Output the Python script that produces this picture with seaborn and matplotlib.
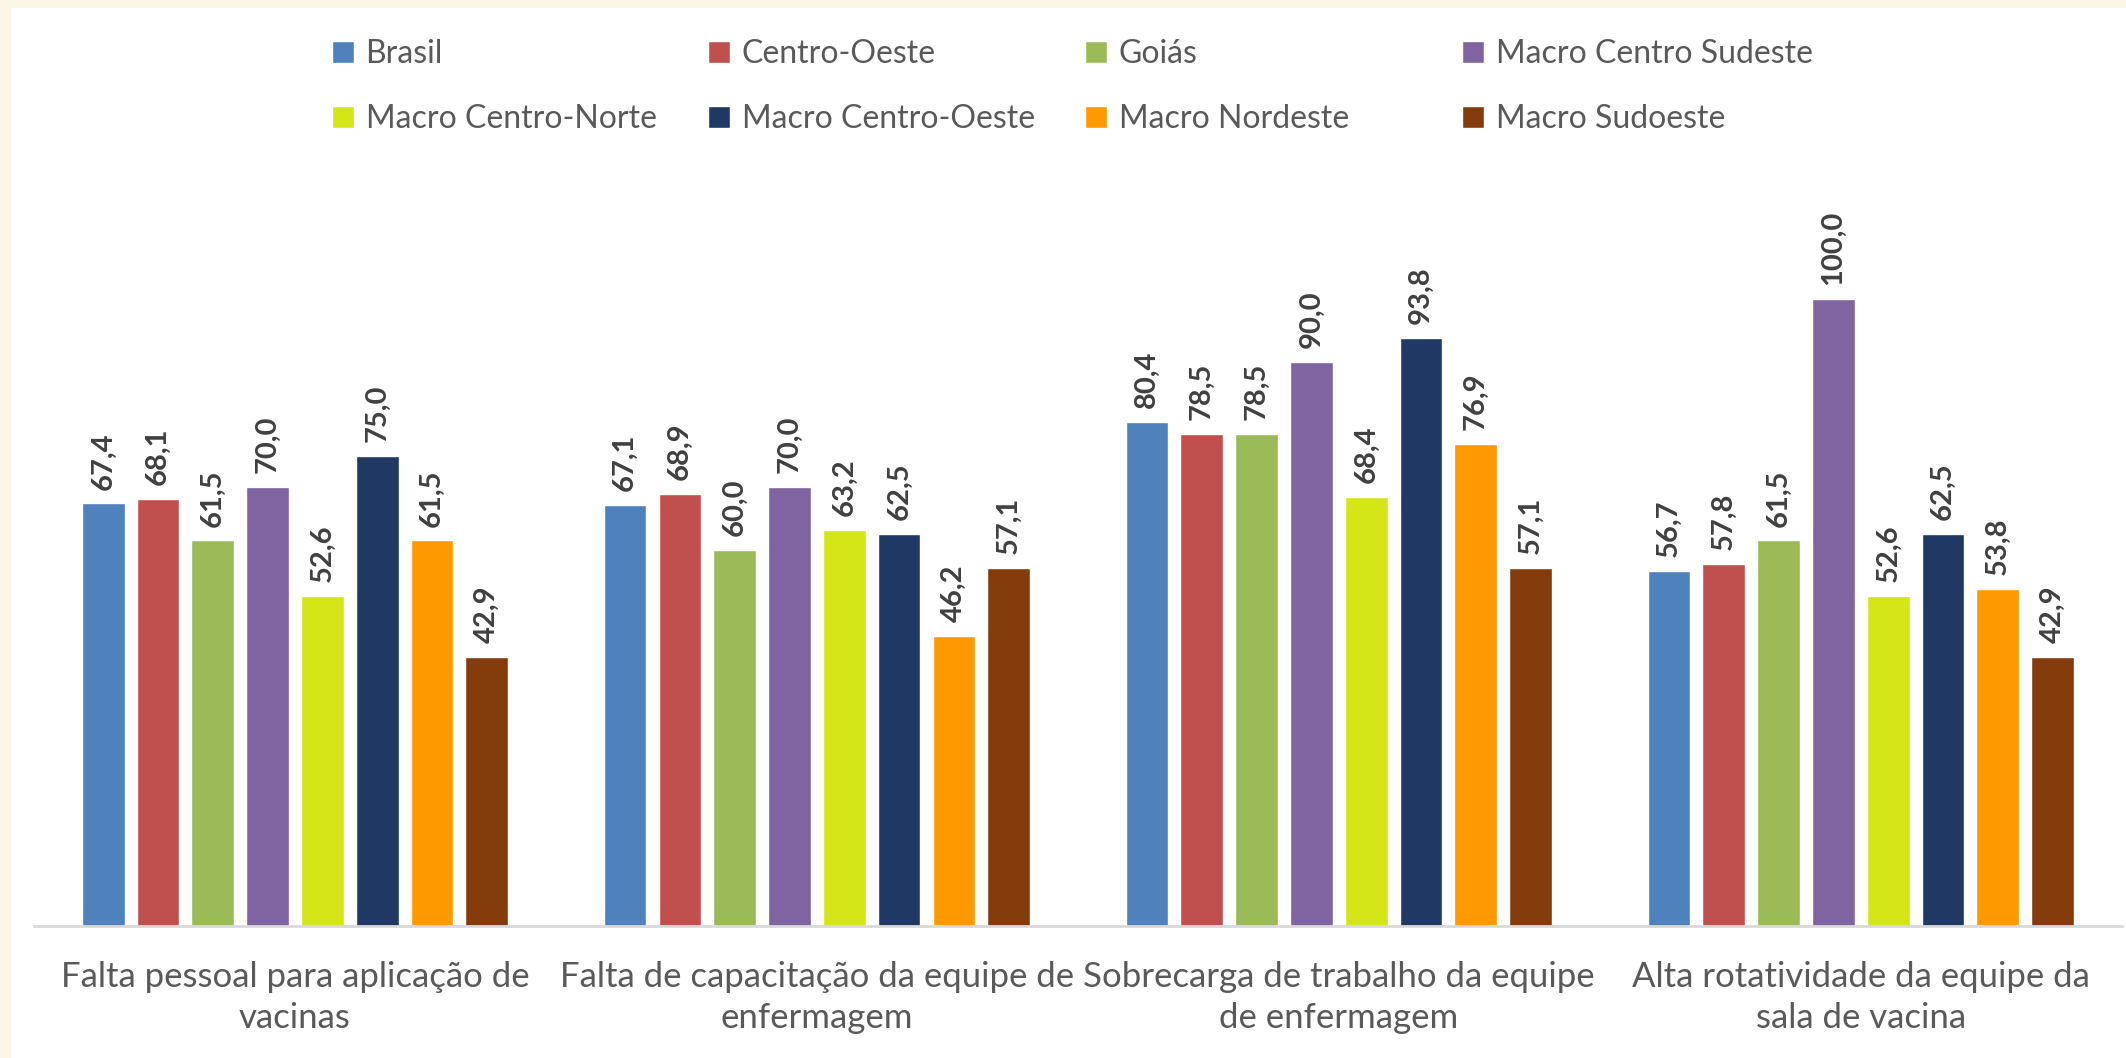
import pandas as pd
import matplotlib.pyplot as plt
import seaborn as sns
from matplotlib.patches import Rectangle

categories = [
    "Falta pessoal para aplicação de\nvacinas",
    "Falta de capacitação da equipe de\nenfermagem",
    "Sobrecarga de trabalho da equipe\nde enfermagem",
    "Alta rotatividade da equipe da\nsala de vacina",
]
regions = ["Brasil", "Centro-Oeste", "Goiás", "Macro Centro Sudeste",
           "Macro Centro-Norte", "Macro Centro-Oeste", "Macro Nordeste", "Macro Sudoeste"]
colors = ["#4F81BD", "#C0504D", "#9BBB59", "#8064A2",
          "#D4E617", "#1F3864", "#FF9900", "#843C0C"]

falta_pessoal = [67.4, 68.1, 61.5, 70.0, 52.6, 75.0, 61.5, 42.9]
falta_capacitacao = [67.1, 68.9, 60.0, 70.0, 63.2, 62.5, 46.2, 57.1]
sobrecarga = [80.4, 78.5, 78.5, 90.0, 68.4, 93.8, 76.9, 57.1]
rotatividade = [56.7, 57.8, 61.5, 100.0, 52.6, 62.5, 53.8, 42.9]

rows = []
for cat, vals in zip(categories, [falta_pessoal, falta_capacitacao, sobrecarga, rotatividade]):
    for reg, v in zip(regions, vals):
        rows.append({"categoria": cat, "regiao": reg, "valor": v})
df = pd.DataFrame(rows)

sns.set_style("white")
plt.rcParams["font.family"] = ["Lato", "DejaVu Sans"]

fig = plt.figure(figsize=(21.26, 10.58), dpi=100, facecolor="#FBF5E6")
# white chart area inside the cream page border
fig.patches.append(Rectangle((0.005, 0), 0.995, 0.992, transform=fig.transFigure,
                             facecolor="white", edgecolor="none", zorder=-5))
ax = fig.add_axes([0.016, 0.1248, 0.982, 0.711])
ax.set_facecolor("none")
ax.set_zorder(2)

sns.barplot(data=df, x="categoria", y="valor", hue="regiao", hue_order=regions,
            palette=colors, width=0.84, gap=0.22, saturation=1, ax=ax, legend=True)

# value labels on top of every bar
for cont in ax.containers:
    for bar in cont:
        h = bar.get_height()
        ax.annotate(f"{h:.1f}".replace(".", ","),
                    (bar.get_x() + bar.get_width() / 2, h),
                    xytext=(0, 10), textcoords="offset points",
                    ha="center", va="bottom", rotation=90,
                    fontsize=21, fontweight="bold", color="#404040")

ax.set_ylim(0, 120)
ax.set_xlim(-0.5, 3.5)
ax.set_xlabel("")
ax.set_ylabel("")
ax.set_yticks([])
for s in ["top", "right", "left"]:
    ax.spines[s].set_visible(False)
ax.spines["bottom"].set_color("#D9D9D9")
ax.spines["bottom"].set_linewidth(2)
ax.tick_params(axis="x", length=0, pad=25, labelsize=25, labelcolor="#595959")
plt.setp(ax.get_xticklabels(), linespacing=1.35)

# legend: Excel style 4 columns, filled row by row
handles, labels = ax.get_legend_handles_labels()
ax.get_legend().remove()
col_x = [332, 708, 1085, 1462]
for i, x in enumerate(col_x):
    fig.legend(handles=[handles[i], handles[i + 4]], labels=[labels[i], labels[i + 4]],
               loc="upper left", bbox_to_anchor=(x / 2126, 1 - 39 / 1058),
               frameon=False, fontsize=23, labelcolor="#595959",
               handlelength=0.7, handleheight=0.7, handletextpad=0.35,
               labelspacing=1.1, borderaxespad=0, borderpad=0)

fig.savefig("out.png", dpi=100, facecolor=fig.get_facecolor())
